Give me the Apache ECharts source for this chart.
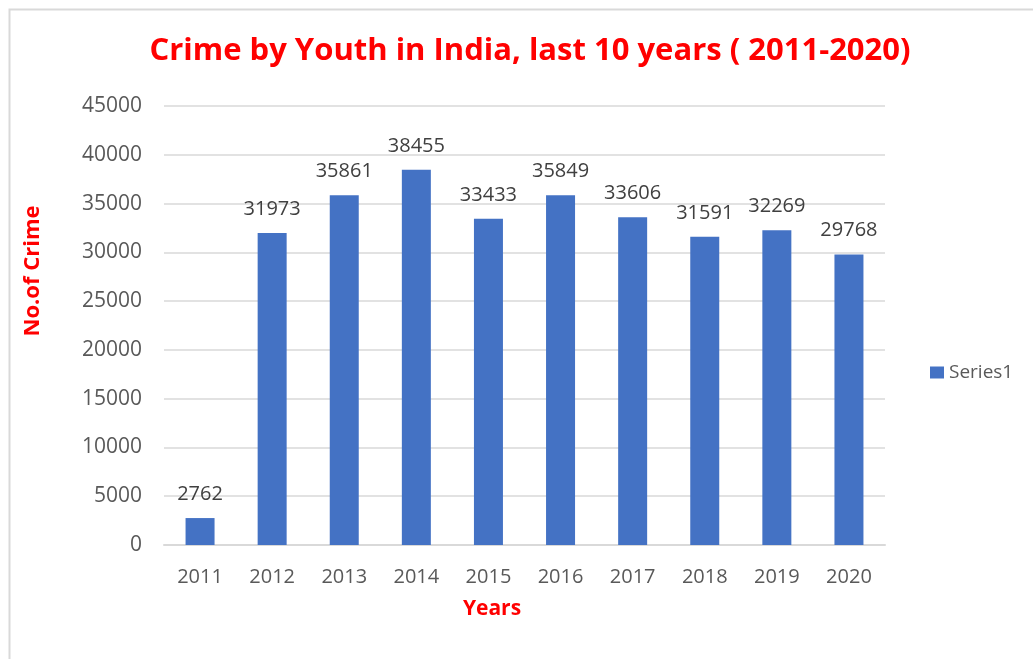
<!DOCTYPE html>
<html>
<head>
<meta charset="utf-8">
<script src="https://cdn.jsdelivr.net/npm/echarts@6/dist/echarts.min.js"></script>
<style>html,body{margin:0;padding:0;background:#fff;}#chart{width:1033px;height:659px;}</style>
</head>
<body>
<div id="chart"></div>
<script>
const titleText = 'Crime by Youth in India, last 10 years ( 2011-2020)';
const years = ['2011','2012','2013','2014','2015','2016','2017','2018','2019','2020'];
const crimes = [2762, 31973, 35861, 38455, 33433, 35849, 33606, 31591, 32269, 29768];
const seriesName = 'Series1';
const yAxisTitle = 'No.of Crime';
const xAxisTitle = 'Years';

const FONT = '"Open Sans", "Liberation Sans", sans-serif';
const chart = echarts.init(document.getElementById('chart'));
chart.setOption({
  backgroundColor: '#ffffff',
  animation: false,
  graphic: [{
    type: 'rect', left: 7, top: 7, z: -1,
    shape: { width: 1040, height: 670 },
    style: { fill: 'none', stroke: '#d9d9d9', lineWidth: 2 }
  }, {
    type: 'text', x: 33, y: 271, rotation: Math.PI / 2,
    style: { text: yAxisTitle, fill: '#ff0000', font: 'bold 22px ' + FONT, align: 'center', verticalAlign: 'middle' }
  }, {
    type: 'text', x: 492, y: 609,
    style: { text: xAxisTitle, fill: '#ff0000', font: 'bold 21px ' + FONT, align: 'center', verticalAlign: 'middle' }
  }],
  title: {
    text: titleText, left: 525, top: 31, textAlign: 'center',
    textStyle: { color: '#ff0000', fontWeight: 'bold', fontSize: 31, fontFamily: FONT }
  },
  legend: {
    data: [seriesName], left: 925, top: 358, orient: 'vertical',
    icon: 'rect', itemWidth: 14, itemHeight: 12, itemGap: 5,
    textStyle: { color: '#595959', fontSize: 19, fontFamily: FONT }
  },
  grid: { left: 164, right: 148, top: 106, bottom: 114 },
  xAxis: {
    type: 'category', data: years,
    axisLine: { lineStyle: { color: '#d9d9d9', width: 2 } },
    axisTick: { show: false },
    axisLabel: { color: '#595959', fontSize: 20, fontFamily: FONT, margin: 22 }
  },
  yAxis: {
    type: 'value', min: 0, max: 45000, interval: 5000,
    axisLine: { show: false }, axisTick: { show: false },
    splitLine: { lineStyle: { color: '#d9d9d9', width: 1.5 } },
    axisLabel: { color: '#595959', fontSize: 21, fontFamily: FONT, margin: 22, formatter: v => String(v) }
  },
  series: [{
    name: seriesName, type: 'bar', data: crimes, barWidth: 29,
    itemStyle: { color: '#4472c4' },
    label: { show: true, position: 'top', distance: 14, color: '#404040', fontSize: 20, fontFamily: FONT }
  }]
});
</script>
</body>
</html>
